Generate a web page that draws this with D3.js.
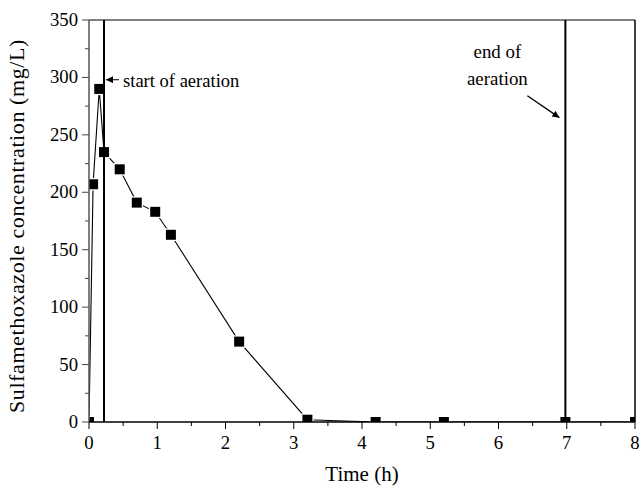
<!DOCTYPE html>
<html>
<head>
<meta charset="utf-8">
<script src="https://cdn.jsdelivr.net/npm/d3@7"></script>
<style>
  body { margin: 0; background: #fff; }
</style>
</head>
<body>
<div id="chart"></div>
<script>
// time (h) and sulfamethoxazole concentration (mg/L)
var times = [0, 0.06, 0.15, 0.22, 0.45, 0.7, 0.97, 1.2, 2.2, 3.2, 4.2, 5.2, 6.98, 8];
var conc = [0, 207, 290, 235, 220, 191, 183, 163, 70, 2, 0, 0, 0, 0];
var xTicks = [0, 1, 2, 3, 4, 5, 6, 7, 8];
var yTicks = [0, 50, 100, 150, 200, 250, 300, 350];
var aerationStart = 0.22;
var aerationEnd = 6.98;

var serif = "'Liberation Serif', 'Times New Roman', Times, serif";

var margin = { top: 20, right: 5, bottom: 64, left: 89 },
  width = 640 - margin.left - margin.right,
  height = 486 - margin.top - margin.bottom;

var svg = d3.select("#chart").append("svg")
  .attr("width", 640).attr("height", 486)
  .append("g")
  .attr("transform", "translate(" + margin.left + "," + margin.top + ")");

var x = d3.scaleLinear().domain([0, 8]).range([0, width]);
var y = d3.scaleLinear().domain([0, 350]).range([height, 0]);

svg.append("defs").append("clipPath").attr("id", "clip")
  .append("rect").attr("width", width).attr("height", height);

svg.append("defs").append("marker")
  .attr("id", "arrow").attr("viewBox", "0 0 10 10")
  .attr("refX", 10).attr("refY", 5)
  .attr("markerWidth", 9).attr("markerHeight", 7)
  .attr("markerUnits", "userSpaceOnUse")
  .attr("orient", "auto")
  .append("path").attr("d", "M0,0L10,5L0,10Z").attr("fill", "#000");

// text in the original is a bit wide, so stretch it sideways a little
function label(g, tx, ty, str, size, anchor, sx) {
  g.append("text")
    .attr("transform", "translate(" + tx + "," + ty + ") scale(" + sx + ",1)")
    .attr("text-anchor", anchor || "start")
    .style("font-family", serif)
    .style("font-size", size + "px")
    .attr("fill", "#000")
    .text(str);
}

// ticks, drawn by hand so minor ticks can be shorter
var xMinor = d3.range(0.5, 8, 1);
var yMinor = d3.range(25, 350, 50);

svg.selectAll(".xt").data(xTicks).join("line")
  .attr("x1", d => x(d)).attr("x2", d => x(d))
  .attr("y1", height).attr("y2", height + 7)
  .attr("stroke", "#000");
svg.selectAll(".xm").data(xMinor).join("line")
  .attr("x1", d => x(d)).attr("x2", d => x(d))
  .attr("y1", height).attr("y2", height + 4)
  .attr("stroke", "#000");
svg.selectAll(".yt").data(yTicks).join("line")
  .attr("x1", -7).attr("x2", 0)
  .attr("y1", d => y(d)).attr("y2", d => y(d))
  .attr("stroke", "#444");
svg.selectAll(".ym").data(yMinor).join("line")
  .attr("x1", -4).attr("x2", 0)
  .attr("y1", d => y(d)).attr("y2", d => y(d))
  .attr("stroke", "#444");

xTicks.forEach(function (d) { label(svg, x(d), height + 27, String(d), 18, "middle", 1.04); });
yTicks.forEach(function (d) { label(svg, -11, y(d) + 6, String(d), 18, "end", 1.04); });

// data line and markers
var plot = svg.append("g").attr("clip-path", "url(#clip)");
var pts = times.map((t, i) => [t, conc[i]]);

plot.append("path")
  .datum(pts)
  .attr("d", d3.line().x(d => x(d[0])).y(d => y(d[1])))
  .attr("fill", "none")
  .attr("stroke", "#000")
  .attr("stroke-width", 1.1);

plot.selectAll("rect.pt").data(pts).join("rect")
  .attr("class", "pt")
  .attr("x", d => x(d[0]) - 5).attr("y", d => y(d[1]) - 5)
  .attr("width", 10).attr("height", 10)
  .attr("fill", "#000")
  .attr("stroke", "#fff").attr("stroke-width", 2.5)
  .style("paint-order", "stroke");

// frame
svg.append("line").attr("x1", 0).attr("x2", width).attr("y1", 0).attr("y2", 0)
  .attr("stroke", "#555").attr("stroke-width", 1.5);
svg.append("line").attr("x1", 0).attr("x2", 0).attr("y1", 0).attr("y2", height)
  .attr("stroke", "#555").attr("stroke-width", 1.5);
svg.append("line").attr("x1", 0).attr("x2", width).attr("y1", height).attr("y2", height)
  .attr("stroke", "#000").attr("stroke-width", 1.5);
svg.append("line").attr("x1", width).attr("x2", width).attr("y1", 0).attr("y2", height)
  .attr("stroke", "#000").attr("stroke-width", 1.5);

// aeration markers
[aerationStart, aerationEnd].forEach(function (t) {
  svg.append("line")
    .attr("x1", x(t)).attr("x2", x(t)).attr("y1", 0).attr("y2", height)
    .attr("stroke", "#000").attr("stroke-width", 2);
});

svg.append("line")
  .attr("x1", x(aerationStart) + 15).attr("y1", y(298))
  .attr("x2", x(aerationStart) + 2).attr("y2", y(298))
  .attr("stroke", "#000").attr("stroke-width", 1)
  .attr("marker-end", "url(#arrow)");
label(svg, x(aerationStart) + 19, y(291.5), "start of aeration", 18, "start", 1.03);

label(svg, x(aerationEnd) - 68, y(317), "end of", 18, "middle", 1.05);
label(svg, x(aerationEnd) - 68, y(293), "aeration", 18, "middle", 1.05);
svg.append("line")
  .attr("x1", x(aerationEnd) - 38).attr("y1", y(284))
  .attr("x2", x(aerationEnd) - 6).attr("y2", y(265))
  .attr("stroke", "#000").attr("stroke-width", 1.3)
  .attr("marker-end", "url(#arrow)");

// axis titles
label(svg, width / 2, height + 59, "Time (h)", 20, "middle", 1.05);
svg.append("text")
  .attr("transform", "translate(-65," + (height / 2 + 5) + ") rotate(-90)")
  .attr("text-anchor", "middle")
  .style("font-family", serif)
  .style("font-size", "22px")
  .attr("letter-spacing", 0.6)
  .text("Sulfamethoxazole  concentration (mg/L)");
</script>
</body>
</html>
